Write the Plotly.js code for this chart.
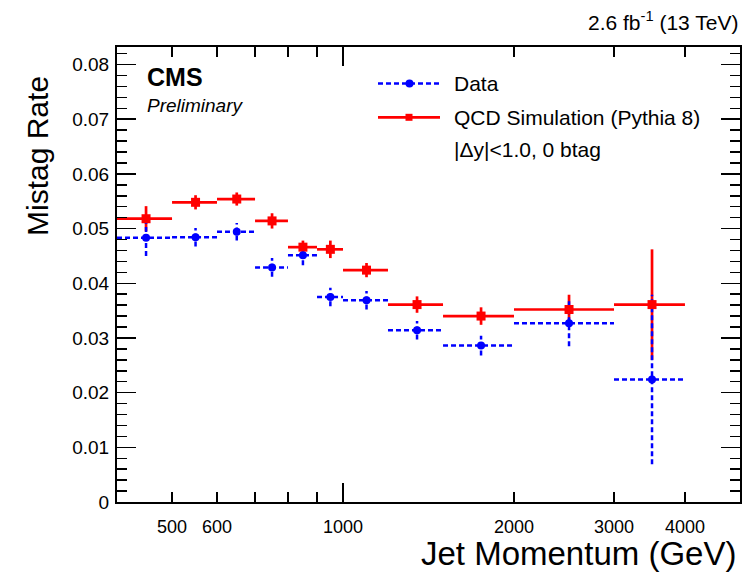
<!DOCTYPE html>
<html>
<head>
<meta charset="utf-8">
<script src="https://cdn.plot.ly/plotly-3.0.1.min.js"></script>
<style>html,body{margin:0;padding:0;background:#fff;}#plot{width:754px;height:573px;}</style>
</head>
<body>
<div id="plot"></div>
<script>
// Bin edges (GeV)
const binLo = [400, 500, 600, 700, 800, 900, 1000, 1200, 1500, 2000, 3000];
const binHi = [500, 600, 700, 800, 900, 1000, 1200, 1500, 2000, 3000, 4000];
// Data (blue)
const dataRate = [0.0483, 0.0484, 0.0494, 0.0429, 0.0451, 0.0375, 0.0369, 0.0314, 0.0286, 0.0327, 0.0224];
const dataErr  = [0.0033, 0.0017, 0.0016, 0.0017, 0.0018, 0.0017, 0.0017, 0.0017, 0.0018, 0.0042, 0.0155];
// QCD simulation (red)
const mcRate = [0.0518, 0.0548, 0.0554, 0.0514, 0.0466, 0.0462, 0.0424, 0.0361, 0.0340, 0.0352, 0.0361];
const mcErr  = [0.0023, 0.0013, 0.0012, 0.0014, 0.0012, 0.0016, 0.0013, 0.0015, 0.0016, 0.0027, 0.0101];
// Axis tick labels
const xTickVals = [500, 600, 700, 800, 900, 1000, 2000, 3000, 4000];
const xTickText = ['500', '600', ' ', ' ', ' ', '1000', '2000', '3000', '4000'];

const centers = binLo.map((lo, i) => (lo + binHi[i]) / 2);

function crossSegments(rate, err) {
  const xs = [], ys = [];
  rate.forEach((v, i) => {
    xs.push(binLo[i], binHi[i], null); ys.push(v, v, null);
    xs.push(centers[i], centers[i], null); ys.push(v - err[i], v + err[i], null);
  });
  return {x: xs, y: ys};
}

const FONT = 'Liberation Sans, Arial, Helvetica, sans-serif';
const RED = '#ff0000', BLUE = '#0000ff';

const mcSeg = crossSegments(mcRate, mcErr);
const dataSeg = crossSegments(dataRate, dataErr);

const traces = [
  {x: mcSeg.x, y: mcSeg.y, mode: 'lines', line: {color: RED, width: 2.7}, connectgaps: false, hoverinfo: 'skip'},
  {x: dataSeg.x, y: dataSeg.y, mode: 'lines', line: {color: BLUE, width: 2.5, dash: '5px,3px'}, connectgaps: false, hoverinfo: 'skip'},
  {x: centers, y: mcRate, mode: 'markers', marker: {symbol: 'square', size: 9, color: RED}, name: 'QCD Simulation (Pythia 8)'},
  {x: centers, y: dataRate, mode: 'markers', marker: {symbol: 'circle', size: 8, color: BLUE}, name: 'Data', xaxis: 'x2', yaxis: 'y'}
];

const L = 117, R = 740, T = 47, B = 502;
const px2x = p => (p - L) / (R - L);
const px2y = p => (B - p) / (B - T);

function ann(text, xp, yp, size, opts) {
  return Object.assign({text: text, x: px2x(xp), y: px2y(yp), xref: 'paper', yref: 'paper',
    showarrow: false, xanchor: 'left', yanchor: 'middle', font: {family: FONT, size: size, color: '#000'}}, opts || {});
}

const xr = [Math.log10(400), Math.log10(5000)];

const layout = {
  width: 754, height: 573,
  margin: {l: L, r: 754 - R, t: T, b: 573 - B, pad: 0},
  paper_bgcolor: '#fff', plot_bgcolor: '#fff',
  showlegend: false,
  font: {family: FONT, color: '#000'},
  xaxis: {
    type: 'log', range: xr, tickmode: 'array', tickvals: xTickVals, ticktext: xTickText,
    ticks: 'inside', ticklen: 10, tickwidth: 1.5, tickcolor: '#000',
    showline: true, linecolor: '#000', linewidth: 2, mirror: 'ticks',
    showgrid: false, zeroline: false, tickfont: {family: FONT, size: 18, color: '#000'},
    ticklabelstandoff: 7
  },
  xaxis2: {
    type: 'log', range: xr, overlaying: 'x', anchor: 'y', side: 'bottom',
    tickmode: 'array', tickvals: [1000], ticks: 'inside', ticklen: 19, tickwidth: 1.5, tickcolor: '#000',
    showticklabels: false, showline: false, mirror: 'ticks', showgrid: false, zeroline: false
  },
  yaxis: {
    range: [0, 0.0832], tickmode: 'linear', tick0: 0, dtick: 0.01,
    ticks: 'inside', ticklen: 19, tickwidth: 1.5, tickcolor: '#000',
    minor: {dtick: 0.002, ticks: 'inside', ticklen: 10, tickwidth: 1.5, tickcolor: '#000', showgrid: false},
    showline: true, linecolor: '#000', linewidth: 2, mirror: 'ticks',
    showgrid: false, zeroline: false, tickfont: {family: FONT, size: 19, color: '#000'},
    ticklabelstandoff: 2
  },
  shapes: [
    {type: 'line', xref: 'paper', yref: 'paper', x0: px2x(378), x1: px2x(440), y0: px2y(83.5), y1: px2y(83.5),
      line: {color: BLUE, width: 2.5, dash: '5px,3px'}},
    {type: 'circle', xref: 'paper', yref: 'paper', x0: px2x(405.5), x1: px2x(413.5), y0: px2y(87.5), y1: px2y(79.5),
      fillcolor: BLUE, line: {color: BLUE, width: 0}},
    {type: 'line', xref: 'paper', yref: 'paper', x0: px2x(378), x1: px2x(440), y0: px2y(117.3), y1: px2y(117.3),
      line: {color: RED, width: 2.7}},
    {type: 'rect', xref: 'paper', yref: 'paper', x0: px2x(405.5), x1: px2x(412.5), y0: px2y(120.8), y1: px2y(113.8),
      fillcolor: RED, line: {color: RED, width: 0}}
  ],
  annotations: [
    ann('<b>CMS</b>', 145, 77, 25),
    ann('<i>Preliminary</i>', 145, 105, 19),
    ann('Data', 452, 83.5, 21),
    ann('QCD Simulation (Pythia 8)', 452, 117.5, 21),
    ann('|Δy|<1.0, 0 btag', 452, 149, 21),
    ann('2.6 fb<sup>-1</sup> (13 TeV)', 740, 21, 21, {xanchor: 'right'}),
    ann('Jet Momentum (GeV)', 738, 553.5, 33, {xanchor: 'right'}),
    ann('Mistag Rate', 37, 156, 30, {xanchor: 'center', textangle: -90})
  ]
};

Plotly.newPlot('plot', traces, layout, {displayModeBar: false, staticPlot: true});
</script>
</body>
</html>
